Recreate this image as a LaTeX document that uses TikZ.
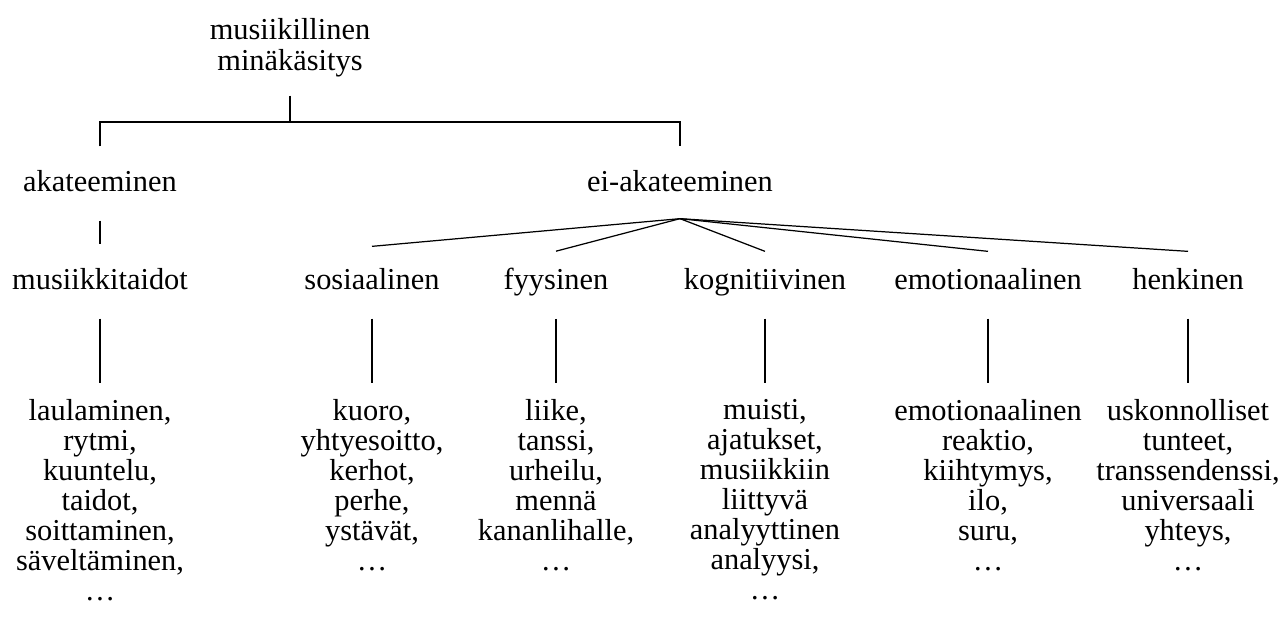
\documentclass[tikz,border=0pt]{standalone}
\usepackage{fontspec}
\setmainfont{Liberation Serif}
\usetikzlibrary{positioning}

\begin{document}
\begin{tikzpicture}[
  x=0.02cm, y=-0.02cm,
  line width=0.7pt,
  font=\fontsize{17.3}{17.07}\selectfont,
  every node/.style={
     inner sep=0pt,
     align=center,
     execute at begin node=\strut
  },
  stem/.style={shorten <=0.4cm, shorten >=0.32cm},
]
   \useasboundingbox (0,0) rectangle (1282,626);

   % The two upper levels
   \node (root) at (290,49) {musiikillinen\\[1pt]minäkäsitys};
   \node (acad) at (100,185) {akateeminen};
   \node (nonacad) at (680,185) {ei-akateeminen};
   \coordinate (split) at (290,122);
   \coordinate (fan) at ([yshift=-0.36cm]nonacad.south);

   % The categories
   \node (skills) at (100,283) {musiikkitaidot};
   \node (social) at (372,283) {sosiaalinen};
   \node (physical) at (556,283) {fyysinen};
   \node (cognitive) at (765,283) {kognitiivinen};
   \node (emotional) at (988,283) {emotionaalinen};
   \node (spiritual) at (1188,283) {henkinen};

   % The lists under the categories
   \node[below=2cm of skills] (skills-list) {laulaminen,\\rytmi,\\kuuntelu,\\taidot,\\soittaminen,\\säveltäminen,\\…};
   \node[below=2cm of social] (social-list) {kuoro,\\yhtyesoitto,\\kerhot,\\perhe,\\ystävät,\\…};
   \node[below=2cm of physical] (physical-list) {liike,\\tanssi,\\urheilu,\\mennä\\kananlihalle,\\…};
   \node[below=2cm of cognitive] (cognitive-list) {muisti,\\ajatukset,\\musiikkiin\\liittyvä\\analyyttinen\\analyysi,\\…};
   \node[below=2cm of emotional] (emotional-list) {emotionaalinen\\reaktio,\\kiihtymys,\\ilo,\\suru,\\…};
   \node[below=2cm of spiritual] (spiritual-list) {uskonnolliset\\tunteet,\\transsendenssi,\\universaali\\yhteys,\\…};

   % The connecting lines
   \draw ([yshift=-0.3cm]root.south) -- (split);
   \draw ([yshift=0.46cm]acad.north) |- (split) -| ([yshift=0.46cm]nonacad.north);
   \draw[shorten <=0.4cm, shorten >=0.46cm] (acad) -- (skills);
   \foreach \n/\d in {social/0.42cm, physical/0.32cm, cognitive/0.32cm, emotional/0.32cm, spiritual/0.32cm}
      \draw (fan) -- ([yshift=\d]\n.north);
   \foreach \n in {skills, social, physical, cognitive, emotional, spiritual}
      \draw[stem] (\n) -- (\n-list);
\end{tikzpicture}
\end{document}
